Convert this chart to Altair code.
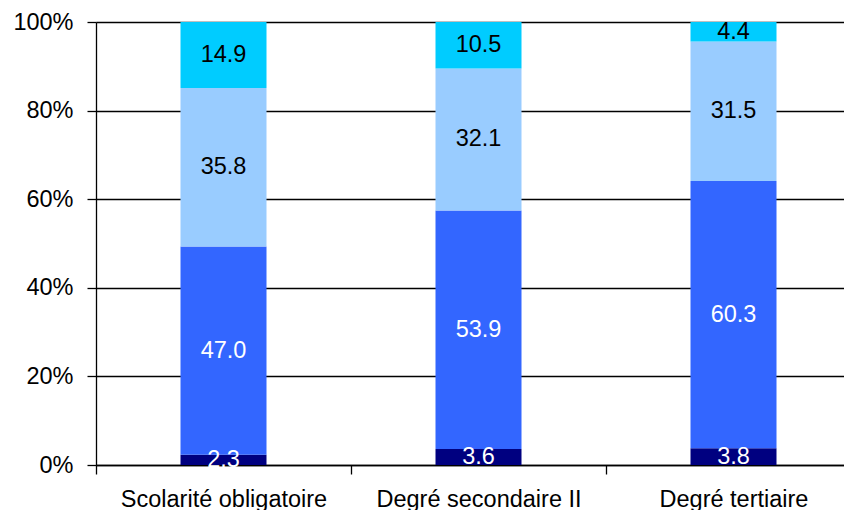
import altair as alt
import pandas as pd

categories = ["Scolarité obligatoire", "Degré secondaire II", "Degré tertiaire"]
series = ["Niveau 1", "Niveau 2", "Niveau 3", "Niveau 4"]
colors = ["#000080", "#3366FF", "#99CCFF", "#00CCFF"]
s1 = [2.3, 3.6, 3.8]
s2 = [47.0, 53.9, 60.3]
s3 = [35.8, 32.1, 31.5]
s4 = [14.9, 10.5, 4.4]
y_ticks = [0, 0.2, 0.4, 0.6, 0.8, 1.0]

rows = []
for si, (name, vals) in enumerate(zip(series, [s1, s2, s3, s4])):
    for ci, cat in enumerate(categories):
        rows.append({"cat": cat, "series": name, "order": si + 1, "value": vals[ci]})
df = pd.DataFrame(rows)

FONT = "Liberation Sans"
FS = 23.5

base = alt.Chart(df).transform_stack(
    stack="value", groupby=["cat"], sort=[alt.SortField("order")],
    as_=["y0", "y1"], offset="normalize"
).transform_calculate(mid="(datum.y0 + datum.y1) / 2")

x_scale = alt.Scale(domain=categories, range=[0, 765], paddingInner=0, paddingOuter=0)

x_enc = alt.X("cat:N", sort=categories, title=None, scale=x_scale,
              axis=alt.Axis(labelAngle=0, tickBand="extent", tickSize=9,
                            labelPadding=13, labelFontSize=FS, labelFont=FONT,
                            labelColor="black", domainColor="black", tickColor="black",
                            domainWidth=1.3, tickWidth=1.3, grid=False, labelLimit=0))

bars = base.mark_bar(size=86).encode(
    x=x_enc,
    y=alt.Y("y0:Q", title=None, scale=alt.Scale(domain=[0, 1], nice=False),
            axis=alt.Axis(values=y_ticks, format=".0%", tickSize=9, labelPadding=14,
                          labelFontSize=FS, labelFont=FONT, labelColor="black",
                          domainColor="black", tickColor="black", gridColor="black",
                          domainWidth=1.3, tickWidth=1.3, gridWidth=1.3, grid=True,
                          gridOpacity=1)),
    y2="y1:Q",
    color=alt.Color("series:N", scale=alt.Scale(domain=series, range=colors), legend=None),
)

labels = base.mark_text(font=FONT, fontSize=FS, baseline="middle", align="center").encode(
    x=alt.X("cat:N", sort=categories, scale=x_scale),
    y=alt.Y("mid:Q"),
    text=alt.Text("value:Q", format=".1f"),
    color=alt.condition(alt.datum.order <= 2, alt.value("white"), alt.value("black")),
)

chart = alt.layer(bars, labels).properties(
    width=748, height=443,
    autosize=alt.AutoSizeParams(type="none"),
    padding={"left": 88, "top": 14, "right": 0, "bottom": 45},
).configure_view(stroke=None).configure(background="white")

chart.save("out.html", embed_options={"renderer": "svg", "actions": False})
